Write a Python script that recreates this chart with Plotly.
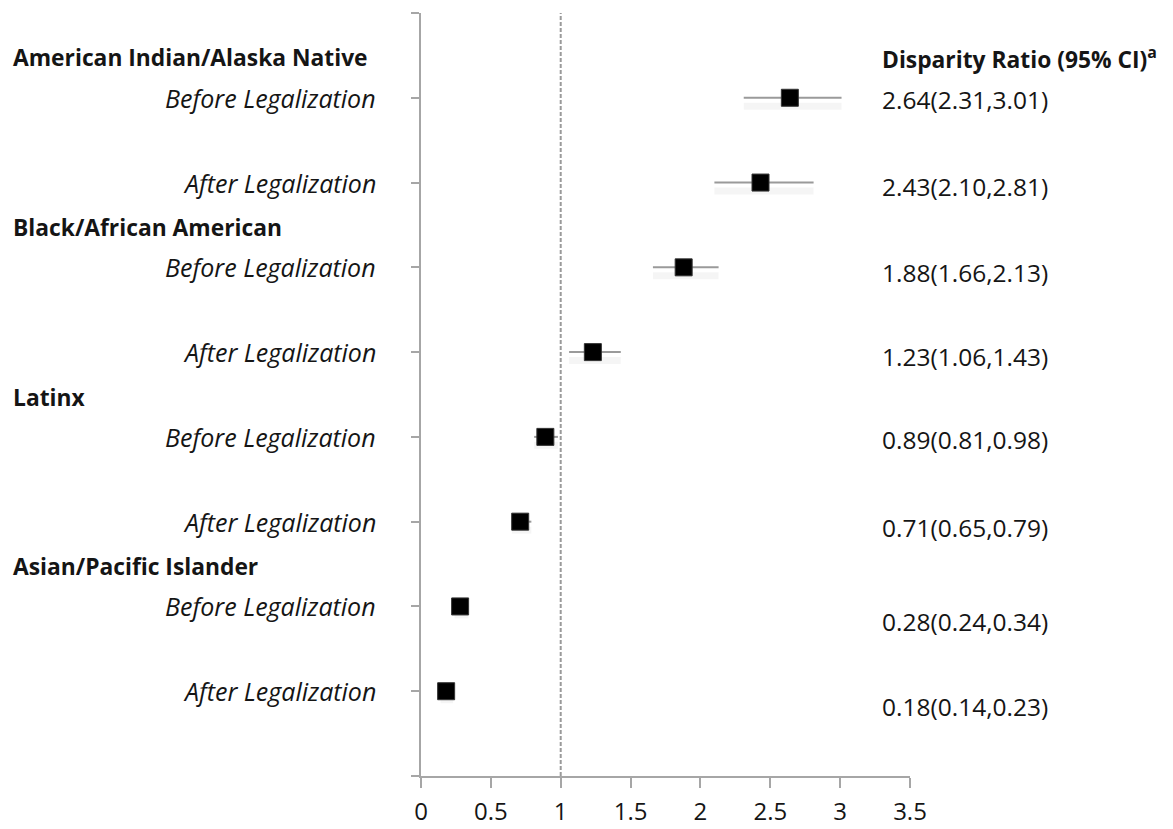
import plotly.graph_objects as go

groups = ["American Indian/Alaska Native", "Black/African American", "Latinx", "Asian/Pacific Islander"]
periods = ["Before Legalization", "After Legalization"]
ratio = [2.64, 2.43, 1.88, 1.23, 0.89, 0.71, 0.28, 0.18]
ci_low = [2.31, 2.10, 1.66, 1.06, 0.81, 0.65, 0.24, 0.14]
ci_high = [3.01, 2.81, 2.13, 1.43, 0.98, 0.79, 0.34, 0.23]
x_ticks = [0, 0.5, 1, 1.5, 2, 2.5, 3, 3.5]
header = "Disparity Ratio (95% CI)<sup>a</sup>"
# label vertical offsets (px) as seen in the picture
label_shift = [-2, -4, -5, -4, -3, -6, -15, -15]

n = len(ratio)
rows = [n - i for i in range(n)]  # 8..1
err_plus = [h - r for h, r in zip(ci_high, ratio)]
err_minus = [r - l for r, l in zip(ratio, ci_low)]

FONT = "Open Sans"
AX = "#a6a6a6"
TXT = "#151515"

fig = go.Figure()
# soft shadow under CI lines
fig.add_trace(go.Scatter(
    x=ratio, y=[r - 0.1 for r in rows], mode="markers",
    marker=dict(size=1, color="rgba(0,0,0,0)"),
    error_x=dict(type="data", symmetric=False, array=err_plus, arrayminus=err_minus,
                 width=0, thickness=7, color="rgba(0,0,0,0.04)"),
    hoverinfo="skip", showlegend=False))
fig.add_trace(go.Scatter(
    x=ratio, y=rows, mode="markers",
    marker=dict(symbol="square", size=17, color="black", line=dict(width=1, color="#333")),
    error_x=dict(type="data", symmetric=False, array=err_plus, arrayminus=err_minus,
                 width=0, thickness=2, color="#9a9a9a"),
    showlegend=False))

fig.add_shape(type="line", x0=1, x1=1, y0=0, y1=9, xref="x", yref="y",
              line=dict(color="#9a9a9a", width=2, dash="4px,2px"), layer="below")

ann = []
for gi, g in enumerate(groups):
    y_before = rows[gi * 2]
    ann.append(dict(text="<b>" + g + "</b>", x=0, xref="paper", xshift=-410, xanchor="left",
                    y=y_before + 0.47, yref="y", showarrow=False,
                    font=dict(family=FONT, size=22.8, color=TXT)))
for i in range(n):
    ann.append(dict(text="<i>" + periods[i % 2] + "</i>", x=0, xref="paper", xshift=-43,
                    xanchor="right", y=rows[i], yref="y", showarrow=False,
                    font=dict(family=FONT, size=25, color=TXT)))
    ann.append(dict(text=f"{ratio[i]:.2f}({ci_low[i]:.2f},{ci_high[i]:.2f})", x=3.285, xref="x",
                    xanchor="left", y=rows[i], yref="y", yshift=label_shift[i], showarrow=False,
                    font=dict(family=FONT, size=24.5, color=TXT)))
ann.append(dict(text="<b>" + header + "</b>", x=3.285, xref="x", xanchor="left",
                y=rows[0] + 0.47, yref="y", showarrow=False,
                font=dict(family=FONT, size=22.8, color=TXT)))

fig.update_layout(
    width=1173, height=829, margin=dict(l=421, r=263, t=13, b=53),
    paper_bgcolor="white", plot_bgcolor="white", annotations=ann,
    xaxis=dict(range=[0, 3.5], tickvals=x_ticks, ticktext=[f"{v:g}" for v in x_ticks],
               showgrid=False, zeroline=False, showline=True, linecolor=AX, linewidth=2,
               ticks="outside", ticklen=10, tickwidth=2, tickcolor=AX, automargin=False,
               ticklabelstandoff=3,
               tickfont=dict(family=FONT, size=24, color=TXT)),
    yaxis=dict(range=[0, 9], tickvals=list(range(10)), showticklabels=False, showgrid=False,
               zeroline=False, showline=True, linecolor=AX, linewidth=2, automargin=False,
               ticks="outside", ticklen=8, tickwidth=2, tickcolor=AX),
)
fig.write_html("out.html", config={"displayModeBar": False},
               post_script="document.body.style.margin='0';")
